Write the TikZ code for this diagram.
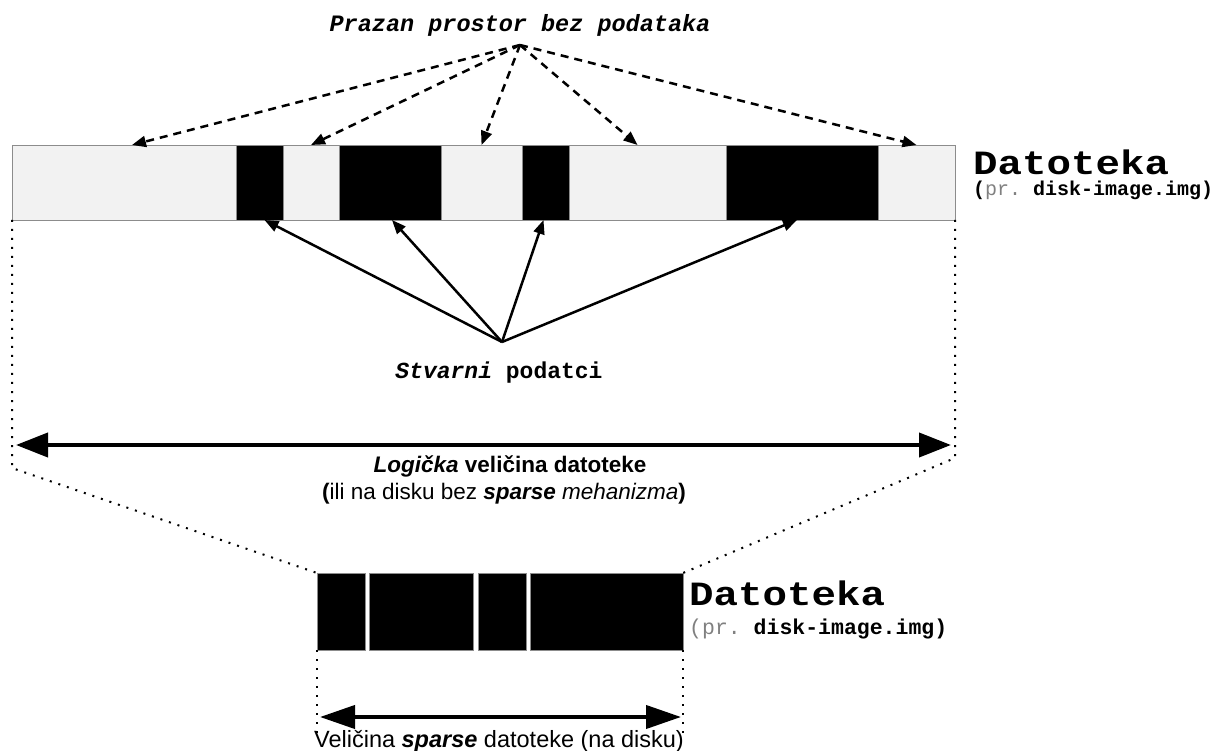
\documentclass[tikz,border=0pt]{standalone}
\usepackage{fontspec}
\setmainfont{Liberation Sans}
\setmonofont{Liberation Mono}
\newfontfamily\siroki[FakeStretch=1.2]{Liberation Mono}
\usepackage{tikz}
\usetikzlibrary{arrows.meta}
\definecolor{svijetla}{HTML}{F2F2F2}
\definecolor{rub}{HTML}{8C8C8C}
\tikzset{prazno/.style={draw=rub, fill=svijetla, line width=0.8pt, minimum height=75pt, inner sep=0pt, outer sep=0pt}}
\tikzset{puno/.style={draw=rub, fill=black, line width=0.8pt, minimum height=75pt, inner sep=0pt, outer sep=0pt}}
\tikzset{isp/.style={line width=2.5pt, dash pattern=on 8pt off 6pt, -{Triangle[length=14pt,width=11pt]}}}
\tikzset{pun/.style={line width=2.5pt, -{Triangle[length=14pt,width=11pt]}}}
\tikzset{tocke/.style={line width=2pt, dash pattern=on 2pt off 7pt}}
\tikzset{l/.style={font=\fontsize{22.5}{26}\selectfont, inner sep=0pt}}
\tikzset{t/.style={font=\ttfamily\bfseries\fontsize{23}{27}\selectfont, inner sep=0pt}}
\tikzset{naslov/.style={anchor=base west, inner sep=0pt, font=\siroki\bfseries\fontsize{34}{38}\selectfont}}

\begin{document}
\begin{tikzpicture}[x=1pt, y=-1pt]
  \useasboundingbox (0,0) rectangle (1216,751);

  % datoteka s rupama
  \node[prazno, minimum width=224pt] (g1) at (124,182.5) {};
  \node[puno, minimum width=47pt] (b1) at (259.5,182.5) {};
  \node[prazno, minimum width=56pt] (g2) at (311,182.5) {};
  \node[puno, minimum width=102pt] (b2) at (390,182.5) {};
  \node[prazno, minimum width=81pt] (g3) at (481.5,182.5) {};
  \node[puno, minimum width=47pt] (b3) at (545.5,182.5) {};
  \node[prazno, minimum width=157pt] (g4) at (647.5,182.5) {};
  \node[puno, minimum width=152pt] (b4) at (802,182.5) {};
  \node[prazno, minimum width=77pt] (g5) at (916.5,182.5) {};
  \node[draw=rub, line width=0.8pt, minimum width=943pt, minimum height=75pt, inner sep=0pt, outer sep=0pt] (traka) at (483.5,182.5) {};

  \node[naslov] (dat1) at (973,175) {Datoteka};
  \node[anchor=base west, inner sep=0pt, font=\ttfamily\fontsize{20}{24}\selectfont] (ime1) at (973,196) {{\bfseries(}\textcolor{gray}{pr.} \textbf{disk-image.img)}};

  % prazan prostor
  \node[t, font=\ttfamily\bfseries\itshape\fontsize{23.5}{27}\selectfont] (prazan) at (520,25) {Prazan prostor bez podataka};
  \coordinate (vrh) at (520,45);
  \path (vrh) edge[isp] ([xshift=8pt]g1.north)
              edge[isp] (g2.north)
              edge[isp] (g3.north)
              edge[isp] ([xshift=-10pt]g4.north)
              edge[isp] (g5.north);

  % stvarni podatci
  \node[t, anchor=base] (stvarni) at (499,378) {\textit{Stvarni} podatci};
  \coordinate (dno) at (502,342);
  \path (dno) edge[pun] ([xshift=5pt]b1.south)
              edge[pun] ([xshift=2pt]b2.south)
              edge[pun] ([xshift=-2pt]b3.south)
              edge[pun] ([xshift=-5pt]b4.south);

  % logicka velicina
  \coordinate (lijevo) at (16,445);
  \coordinate (desno) at (951,445);
  \draw[line width=4pt, {Triangle[length=32pt,width=24pt]}-{Triangle[length=32pt,width=24pt]}] (lijevo) -- (desno);
  \node[l, anchor=base] (logicka) at (510,472) {\textbf{\textit{Logička}} \textbf{veličina datoteke}};
  \node[l, anchor=base] (ili) at (504,499) {\textbf{(}ili na disku bez \textbf{\textit{sparse}} \textit{mehanizma}\textbf{)}};

  % sparse datoteka
  \node[puno, minimum width=48pt, minimum height=77pt] (s1) at (341,611.5) {};
  \node[puno, minimum width=104pt, minimum height=77pt] (s2) at (421,611.5) {};
  \node[puno, minimum width=48pt, minimum height=77pt] (s3) at (502,611.5) {};
  \node[puno, minimum width=153pt, minimum height=77pt] (s4) at (606.5,611.5) {};

  \node[naslov] (dat2) at (689,605) {Datoteka};
  \node[anchor=base west, inner sep=0pt, font=\ttfamily\fontsize{21.5}{24}\selectfont] (ime2) at (689,634) {\textcolor{gray}{(pr.} \textbf{disk-image.img)}};

  % tockaste linije
  \draw[tocke] (traka.south west) -- ++(0,248) -- (s1.north west);
  \draw[tocke] (traka.south east) -- ++(0,238) -- (s4.north east);
  \draw[tocke] (s1.south west) -- ++(0,88);
  \draw[tocke] (s4.south east) -- ++(0,88);

  % velicina sparse datoteke
  \coordinate (sl) at (320,717);
  \coordinate (sd) at (681,717);
  \draw[line width=4pt, {Triangle[length=35pt,width=23pt]}-{Triangle[length=35pt,width=23pt]}] (sl) -- (sd);
  \node[l, font=\fontsize{23.5}{27}\selectfont, anchor=base] (velicina) at (499,747) {Veličina \textbf{\textit{sparse}} datoteke (na disku)};
\end{tikzpicture}
\end{document}
